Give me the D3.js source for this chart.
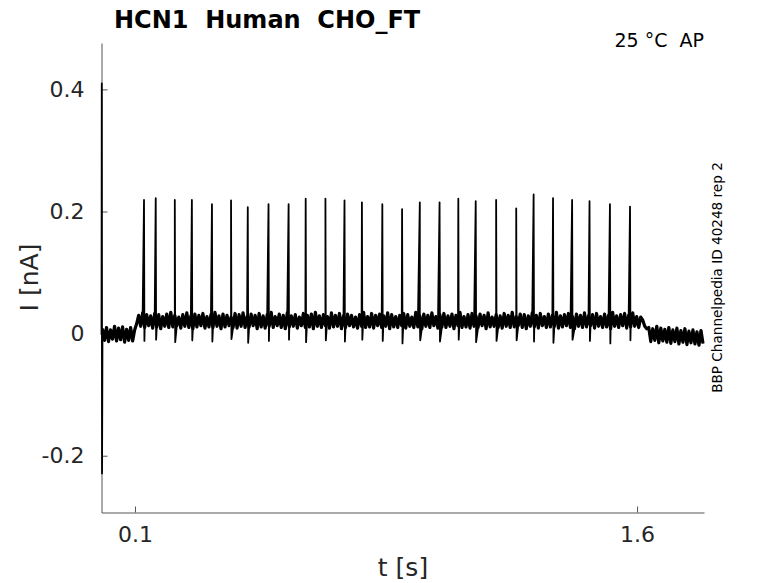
<!DOCTYPE html>
<html>
<head>
<meta charset="utf-8">
<script src="https://cdn.jsdelivr.net/npm/d3@7"></script>
<style>
  body { margin: 0; background: #fff; }
  svg text { font-family: "DejaVu Sans", sans-serif; fill: #262626; white-space: pre; }
</style>
</head>
<body>
<script>
'use strict';

// recording: sampled current trace (nA), first sample at traceStart, one every traceStep seconds
const traceStart = 0.003;
const traceStep = 0.006;
const traceValues = [
    0.008, -0.011, 0.010, -0.013, 0.006, -0.009, 0.012, -0.012, 0.009, -0.010,
    0.011, -0.014, 0.007, -0.011, 0.010, -0.012, 0.006,
    0.016,
    0.030, 0.012, 0.034, 0.010, 0.031, 0.013, 0.029, 0.009, 0.033, 0.011,
    0.031, 0.008, 0.028, 0.012, 0.032, 0.010, 0.035, 0.011, 0.030, 0.013,
    0.027, 0.009, 0.031, 0.012, 0.034, 0.010, 0.029, 0.008, 0.032, 0.011,
    0.030, 0.013, 0.033, 0.009, 0.028, 0.011, 0.031, 0.010, 0.035, 0.012,
    0.029, 0.008, 0.032, 0.011, 0.030, 0.013, 0.027, 0.010, 0.033, 0.009,
    0.031, 0.012, 0.034, 0.010, 0.028, 0.011, 0.032, 0.013, 0.030, 0.008,
    0.033, 0.011, 0.029, 0.009, 0.031, 0.012, 0.035, 0.010, 0.028, 0.013,
    0.032, 0.010, 0.030, 0.008, 0.034, 0.011, 0.029, 0.012, 0.031, 0.009,
    0.027, 0.013, 0.033, 0.010, 0.030, 0.011, 0.032, 0.008, 0.035, 0.012,
    0.029, 0.010, 0.031, 0.013, 0.028, 0.009, 0.034, 0.011, 0.030, 0.012,
    0.033, 0.008, 0.029, 0.010, 0.032, 0.013, 0.030, 0.011, 0.027, 0.009,
    0.031, 0.012, 0.035, 0.010, 0.028, 0.011, 0.033, 0.009, 0.030, 0.013,
    0.032, 0.010, 0.029, 0.012, 0.034, 0.008, 0.031, 0.011, 0.028, 0.010,
    0.030, 0.013, 0.033, 0.009, 0.031, 0.012, 0.027, 0.010, 0.035, 0.011,
    0.029, 0.008, 0.032, 0.012, 0.030, 0.010, 0.034, 0.013, 0.028, 0.009,
    0.031, 0.011, 0.033, 0.010, 0.029, 0.012, 0.032, 0.008, 0.030, 0.013,
    0.035, 0.010, 0.028, 0.011, 0.031, 0.009, 0.033, 0.012, 0.029, 0.010,
    0.032, 0.013, 0.030, 0.008, 0.034, 0.011, 0.027, 0.012, 0.031, 0.010,
    0.029, 0.009, 0.033, 0.012, 0.030, 0.010, 0.035, 0.011, 0.028, 0.013,
    0.032, 0.010, 0.031, 0.008, 0.029, 0.012, 0.034, 0.011, 0.030, 0.009,
    0.033, 0.013, 0.028, 0.010, 0.032, 0.011, 0.030, 0.012, 0.035, 0.009,
    0.029, 0.011, 0.031, 0.013, 0.033, 0.010, 0.028, 0.008, 0.032, 0.012,
    0.030, 0.010, 0.034, 0.011, 0.029, 0.013, 0.031, 0.009, 0.033, 0.012,
    0.028, 0.010, 0.032, 0.011, 0.030, 0.008, 0.035, 0.012, 0.029, 0.010,
    0.031, 0.013, 0.033, 0.009, 0.030, 0.011, 0.034, 0.012, 0.028, 0.010,
    0.027,
    0.022, 0.012, 0.008,
    0.010, -0.013, 0.008, -0.011, 0.012, -0.015, 0.009, -0.012, 0.007, -0.014,
    0.010, -0.016, 0.006, -0.013, 0.009, -0.017, 0.005, -0.014, 0.008, -0.018,
    0.004, -0.015, 0.006, -0.017, 0.003, -0.019, 0.005, -0.016
];

// capacitive transient at stimulus onset
const transientTimes = [0.0, 0.0008, 0.0016];
const transientValues = [-0.002, 0.410, -0.229];

// action-potential-like spikes: time (s), peak and following trough (nA)
const spikeTimes = [
    0.127, 0.162, 0.219, 0.270, 0.330, 0.387, 0.437, 0.499, 0.559, 0.610,
    0.669, 0.726, 0.778, 0.839, 0.898, 0.951, 1.010, 1.066, 1.118, 1.179,
    1.239, 1.291, 1.349, 1.406, 1.458, 1.519, 1.579
];
const spikePeaks = [
    0.219, 0.222, 0.219, 0.219, 0.212, 0.218, 0.207, 0.212, 0.212, 0.221,
    0.221, 0.218, 0.215, 0.212, 0.204, 0.215, 0.215, 0.221, 0.217, 0.219,
    0.205, 0.228, 0.222, 0.219, 0.217, 0.212, 0.208
];
const spikeTroughs = [
    -0.012, -0.010, -0.014, -0.011, -0.013, -0.009, -0.015, -0.012, -0.010, -0.014,
    -0.011, -0.013, -0.010, -0.012, -0.016, -0.011, -0.013, -0.010, -0.014, -0.012,
    -0.011, -0.013, -0.015, -0.010, -0.012, -0.016, -0.011
];

const xTicks = [0.1, 1.6];
const yTicks = [-0.2, 0, 0.2, 0.4];
const xDomain = [0, 1.8];
const yDomain = [-0.293, 0.476];

const title = 'HCN1  Human  CHO_FT';
const condition = '25 °C  AP';
const sourceNote = 'BBP Channelpedia ID 40248 rep 2';

function samplePoints() {
    return traceValues.map((v, i) => ({t: traceStart + i * traceStep, v: v}));
}

function buildPoints() {
    let points = samplePoints();
    transientTimes.forEach((t, i) => points.push({t: t, v: transientValues[i]}));
    spikeTimes.forEach((t, i) => {
        points.push({t: t, v: spikePeaks[i]});
        points.push({t: t + 0.0012, v: spikeTroughs[i]});
    });
    return points.sort((a, b) => a.t - b.t);
}

// matlab style labels: plain hyphen for negatives, bare 0
function tickLabel(d) {
    if (d === 0) return '0';
    return (d < 0 ? '-' : '') + Math.abs(d).toFixed(1);
}

function draw(element = 'body', width = 778, height = 583) {
    /* global d3:true */
    const svg = d3.select(element)
        .append('svg')
        .attr('width', width)
        .attr('height', height);

    const x = d3.scaleLinear().domain(xDomain).range([101.5, 704]);
    const y = d3.scaleLinear().domain(yDomain).range([512.5, 43]);

    const xAxis = d3.axisBottom(x)
        .tickValues(xTicks)
        .tickFormat(tickLabel)
        .tickSizeInner(-6)
        .tickSizeOuter(0)
        .tickPadding(14);
    const yAxis = d3.axisLeft(y)
        .tickValues(yTicks)
        .tickFormat(tickLabel)
        .tickSizeInner(-6)
        .tickSizeOuter(0)
        .tickPadding(17);

    const gx = svg.append('g')
        .attr('transform', 'translate(0,' + y.range()[0] + ')')
        .call(xAxis);
    const gy = svg.append('g')
        .attr('transform', 'translate(' + x.range()[0] + ',0)')
        .call(yAxis);

    [gx, gy].forEach(g => {
        g.selectAll('.domain').attr('stroke', '#555').attr('stroke-width', 1);
        g.selectAll('.tick line').attr('stroke', '#555');
        g.selectAll('.tick text')
            .attr('fill', '#262626')
            .style('font-size', '22px')
            .style('font-family', '"DejaVu Sans", sans-serif');
    });

    const line = d3.line()
        .x(d => x(d.t))
        .y(d => y(d.v));

    // noise band drawn heavier so the dense recording reads as a solid ribbon
    svg.append('path')
        .datum(samplePoints())
        .attr('d', line)
        .attr('fill', 'none')
        .attr('stroke', '#000')
        .attr('stroke-width', 3.2)
        .attr('stroke-linejoin', 'round');

    svg.append('path')
        .datum(buildPoints())
        .attr('d', line)
        .attr('fill', 'none')
        .attr('stroke', '#000')
        .attr('stroke-width', 1.8)
        .attr('stroke-linejoin', 'round');

    svg.append('text')
        .attr('x', 114)
        .attr('y', 28)
        .style('font-size', '24px')
        .style('font-weight', 'bold')
        .style('fill', '#000')
        .text(title);

    svg.append('text')
        .attr('x', 704)
        .attr('y', 47)
        .attr('text-anchor', 'end')
        .style('font-size', '19px')
        .style('fill', '#000')
        .text(condition);

    svg.append('text')
        .attr('transform', 'translate(722,277.5) rotate(-90)')
        .attr('text-anchor', 'middle')
        .style('font-size', '13.6px')
        .style('fill', '#000')
        .text(sourceNote);

    svg.append('text')
        .attr('x', 403)
        .attr('y', 576)
        .attr('text-anchor', 'middle')
        .style('font-size', '25px')
        .text('t [s]');

    svg.append('text')
        .attr('transform', 'translate(38,277.5) rotate(-90)')
        .attr('text-anchor', 'middle')
        .style('font-size', '25px')
        .text('I [nA]');
}

draw();
</script>
</body>
</html>
